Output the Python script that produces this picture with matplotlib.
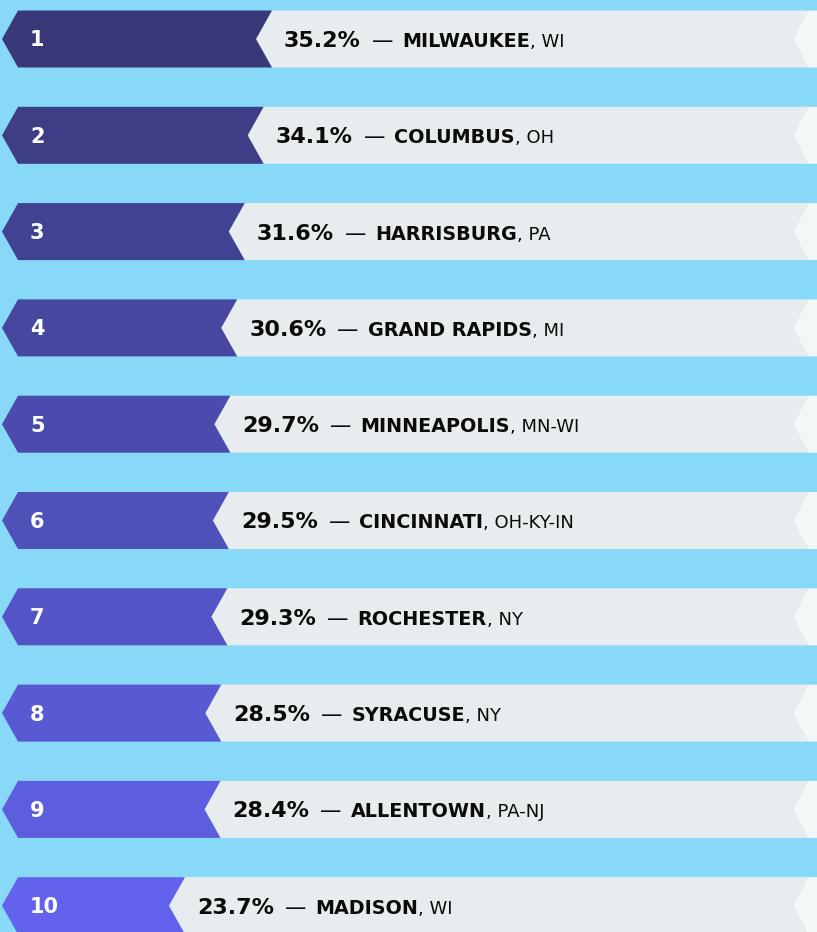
import matplotlib

matplotlib.use("Agg")
import matplotlib.pyplot as plt
import numpy as np
from matplotlib.colors import to_hex, to_rgb
from matplotlib.patches import Polygon
from matplotlib.transforms import blended_transform_factory, offset_copy

# データ
ranks = ["1", "2", "3", "4", "5", "6", "7", "8", "9", "10"]
shares = [35.2, 34.1, 31.6, 30.6, 29.7, 29.5, 29.3, 28.5, 28.4, 23.7]
cities = [
    "MILWAUKEE",
    "COLUMBUS",
    "HARRISBURG",
    "GRAND RAPIDS",
    "MINNEAPOLIS",
    "CINCINNATI",
    "ROCHESTER",
    "SYRACUSE",
    "ALLENTOWN",
    "MADISON",
]
states = ["WI", "OH", "PA", "MI", "MN-WI", "OH-KY-IN", "NY", "NY", "PA-NJ", "WI"]

W, H, DPI = 817, 932, 100
PX = 7.57  # 1ポイントあたりのピクセル
X0 = 5.5  # 0% の位置 (px)
PITCH = 96.3
BAR_H = 57 / PITCH

BG = "#88D9F7"
LIGHT = "#E7EDEE"
TIP = "#F3F7F8"
dark_start, dark_end = np.array(to_rgb("#39397A")), np.array(to_rgb("#6262EC"))
darks = [to_hex(dark_start + (dark_end - dark_start) * t) for t in np.linspace(0, 1, 10)]

fig = plt.figure(figsize=(W / DPI, H / DPI), dpi=DPI)
fig.patch.set_facecolor(BG)
ax = fig.add_axes([0, 0, 1, 1])
ax.set_facecolor(BG)
ax.set_xlim(-X0 / PX, (W - X0) / PX)
ax.set_ylim((H - 39) / PITCH, -39 / PITCH)
ax.axis("off")


def px(v):
    """ピクセル -> データ座標(x)."""
    return (v - X0) / PX


d = 16 / PX  # 切り欠きの深さ
left = px(2)
right = px(808)
d_r = 15 / PX

for i, v in enumerate(shares):
    top, bot = i - BAR_H / 2, i + BAR_H / 2
    dark = [(left, i), (left + d, top), (v, top), (v - d, i), (v, bot), (left + d, bot)]
    light = [(v - d, i), (v, top), (right, top), (right - d_r, i), (right, bot), (v, bot)]
    tip = [(right - d_r, i), (right, top), (px(840), top), (px(840), bot), (right, bot)]
    ax.add_patch(Polygon(light, closed=True, fc=LIGHT, ec="none"))
    ax.add_patch(Polygon(tip, closed=True, fc=TIP, ec="none"))
    ax.add_patch(Polygon(dark, closed=True, fc=darks[i], ec="none"))

renderer = fig.canvas.get_renderer()
rank_tr = blended_transform_factory(ax.transAxes, ax.transData)

for i, v in enumerate(shares):
    ax.text(
        30 / W, i, ranks[i], transform=offset_copy(rank_tr, fig=fig, x=0, y=-7.5, units="dots"),
        color="white", fontsize=15, fontweight="bold", va="baseline", ha="left",
    )
    # 文字列を順番に並べる
    pieces = [
        (f"{v:.1f}%", dict(fontsize=16, fontweight="bold"), 11),
        ("—", dict(fontsize=15.5, fontweight="normal"), 9),
        (cities[i], dict(fontsize=13.8, fontweight="bold"), 0),
        (f", {states[i]}", dict(fontsize=13, fontweight="normal"), 0),
    ]
    off = 12
    for s, kw, gap in pieces:
        t = ax.text(
            v, i, s, transform=offset_copy(ax.transData, fig=fig, x=off, y=-8, units="dots"),
            color="#0B0B0B", va="baseline", ha="left", **kw,
        )
        off += t.get_window_extent(renderer).width + gap

fig.savefig("out.png", dpi=DPI, facecolor=BG)
